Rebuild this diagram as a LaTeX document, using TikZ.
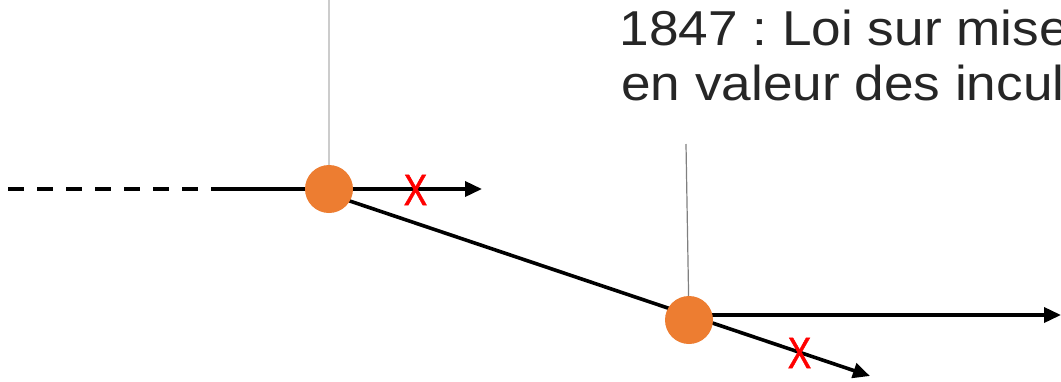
\documentclass[tikz,border=0pt]{standalone}
\usepackage{fontspec}
\setmainfont{Liberation Sans}
\newfontface\crossface{Liberation Sans}[FakeBold=1.3]
\frenchspacing
\usetikzlibrary{arrows.meta}
\definecolor{dotorange}{HTML}{ED7D31}
\definecolor{txtgray}{HTML}{262626}
\pgfdeclarelayer{bg}
\pgfdeclarelayer{lines}
\pgfsetlayers{bg,lines,main}
\begin{document}
\begin{tikzpicture}[x=1pt,y=-1pt,
  dot/.style={circle,fill=dotorange,draw=none,minimum size=48pt,inner sep=0pt},
  flow/.style={line width=3.6pt,draw=black},
  arr/.style={flow,-{Triangle[length=17pt,width=15pt]}},
  dashflow/.style={line width=3.6pt,draw=black,dash pattern=on 16pt off 13pt},
  pinlight/.style={line width=1.2pt,draw=black!20},
  pindark/.style={line width=1.2pt,draw=black!50},
  cross/.style={text=red,font=\crossface\fontsize{44}{44}\selectfont,xscale=0.8,inner sep=0pt},
  lbl/.style={text=txtgray,font=\fontsize{49}{55}\selectfont,xscale=1.085,anchor=base west,inner sep=0pt}
]
\begin{pgfonlayer}{bg}
\fill[white] (0,0) rectangle (1061,381);
\end{pgfonlayer}
\useasboundingbox (0,0) rectangle (1061,381);

% nodes
\node[dot] (c1) at (329,189) {};
\node[dot] (c2) at (689,320) {};
\node[cross] (x1) at (415.5,190) {X};
\node[cross] (x2) at (799.5,353) {X};
\node[lbl] (t1) at (619.5,45) {1847 : Loi sur mise};
\node[lbl] (t2) at (621,100) {en valeur des incul};

% free ends
\coordinate (d0) at (8,189);
\coordinate (d1) at (211,189);
\coordinate (a1) at (482,189);
\coordinate (e2) at (870,376);
\coordinate (a2) at (1061,315);
\coordinate (p1) at (329,0);
\coordinate (p2) at (686,144);

\begin{pgfonlayer}{lines}
\draw[dashflow] (d0) -- (d1);
\draw[flow] (d1) -- (c1.center);
\draw[arr] (c1.center) -- (a1);
\draw[arr] ([yshift=-5pt]c1.center) -- (e2);
\draw[arr] ([yshift=5pt]c2.center) -- (a2);
\draw[pinlight] (p1) -- (c1);
\draw[pindark] (p2) -- (c2);
\end{pgfonlayer}
\end{tikzpicture}
\end{document}
